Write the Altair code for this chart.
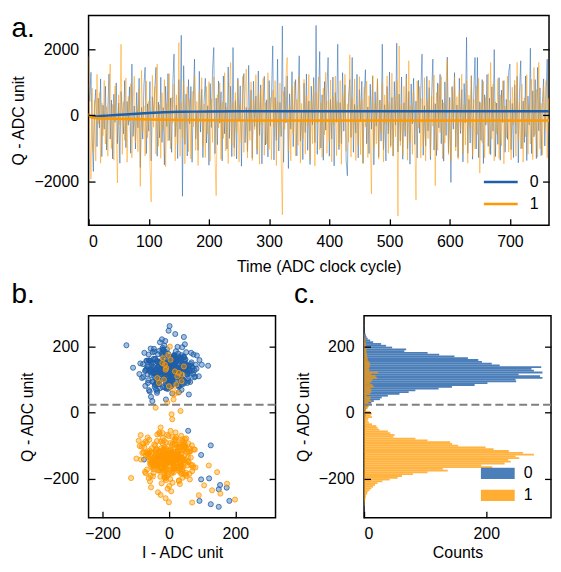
import altair as alt
import pandas as pd

FONT = "Liberation Sans"
BLUE = "#1f5fa8"
ORANGE = "#ff9900"

# ---------------- panel a: single-shot traces (every 2nd ADC cycle) ----------------
trace_t = list(range(0, 770, 2))
trace0 = [
    930, 420, 1300, -600, -1700, 250, 780, -950, 520, -380, 1100, -1250, 310, -420, 880, -1050, 150, 1250, -720, 460,
    -1320, 640, -210, 980, -860, 370, -1450, 720, 130, -560, 1050, -980, 420, -300, 860, -1150, 1550, -640, 280, -1020,
    690, -380, 1120, -1580, 240, -720, 930, 1450, -1160, 350, -480, 1020, -1380, 560, -90, 780, 1450, -1240, 400, -680,
    1150, -820, 230, -1500, 880, -340, 1260, -760, 520, -1120, 960, 1850, -650, 310, -1310, 1080, -420, 2420, -2450, 1500,
    -880, 640, -1230, 1080, -260, 870, -1420, 460, 1700, -720, 130, -1060, 1330, -510, 790, -1280, 420, 1120, -840, 290,
    -1510, 960, -370, 1380, 2050, -1160, 520, -890, 1040, -240, 710, -1380, 1190, -560, 380, -1020, 1460, -700, 880, -1250,
    2050, -980, 450, -1320, 1120, -170, 890, -1540, 620, 1260, -830, 240, -1100, 1510, -470, 760, -1290, 1030, -340, 580,
    -1180, 1340, -610, 920, -1470, 350, 1180, -900, 470, -1260, 1050, -330, 680, 2100, -1350, 540, -760, 1700, -1080, 390,
    -640, 2700, -1420, 860, -230, 1190, -1610, 650, -420, 1320, -950, 280, 1080, -1230, 540, 1800, -780, 120, -1340, 970,
    -520, 1250, -1060, 430, -1490, 880, -290, 1140, -830, 2720, -1180, 360, 1930, -990, 620, -1360, 1020, -450, 780, 1750,
    -1240, 480, -720, 1160, -1530, 690, -210, 2150, -1040, 380, -860, 1290, -480, 920, -1380, -1830, 560, 1080, -670, 1750,
    -1120, 330, -540, 1240, -1290, 780, -190, 1030, -1450, 600, 1380, -860, 250, -1160, 940, -420, 1180, -1500, 710, -330,
    1090, -1260, 460, -780, 2150, -1040, 320, -1380, 870, -560, 1310, -920, 540, -1230, 1020, -300, 2180, -1110, 640, -780,
    1160, -1330, 380, -640, 1250, -1020, 720, -1480, 950, -260, 1120, -880, 430, -1290, 1060, -540, 760, 1850, -1210, 290,
    -930, 1180, -470, 840, -1340, 620, 1700, -1050, 350, -1220, 980, -380, 1240, -860, 470, -1390, 1010, -610, 1760, -1130,
    540, -2030, 870, -420, 1290, -960, 310, -1270, 1120, -550, 780, -1410, 960, -230, 2360, -1150, 480, -840, 1200, -1330,
    690, 1750, -1020, 1750, -1280, 410, -760, 1080, -1460, 620, -300, 1230, -940, 520, -1190, 860, -480, 1990, -1250, 370,
    -880, 1140, -1360, 760, -220, 1050, -1120, 480, -730, 1320, 1550, -1040, 360, -1280, 920, -560, 1180, -1440, 700, 1650,
    -1010, 430, -820, 1190, -1370, 580, -290, 2030, -1160, 740, -650, 1080, -1310, 1450, -470, 830, -1220, 390, 1100, -930,
    520, 1700, -1180, 360, -640,
]
trace1 = [
    1780, -540, -1930, 820, -1120, 460, -1380, 1240, -260, 690, -1450, 380, -620, 1050, -870, 260, -1240, 740, 1550, -1010,
    330, -1360, 890, -480, -2050, 620, -280, 2150, -1180, 410, -760, 1130, -1420, 570, -190, 960, -1290, 440, 1180, -830,
    250, -1100, 780, -2150, 1360, -520, 290, -1230, 1040, -680, 430, -1450, -2620, 1210, -360, 870, -1170, 1550, -940, 320,
    -1300, 690, -430, 1080, -1560, 360, -780, 1260, -1020, 540, -240, 950, -1380, 620, -870, 2200, -1240, 380, -690, 1040,
    -1470, 270, 860, -1100, 480, -1320, 730, -350, 1210, -1060, 420, -1520, 680, -230, 1140, -940, 340, -1280, 870, -560,
    1020, -1390, 490, -820, 1160, -1210, -2430, 620, -380, 980, -1330, 410, -700, 1290, -1080, 250, -1460, 760, 1600, -910,
    380, -1240, 690, -520, 1050, -1410, 330, -830, 1180, -1120, 570, 1400, -1290, 220, -760, 1010, -1370, 460, -430, 1230,
    -1060, 640, -1480, 830, -290, 1120, -1210, 390, -870, 1290, -1030, 540, -1340, 760, -350, 1050, -1520, 420, -660, 980,
    -1260, -3010, 720, -430, 1150, 1750, -1090, 310, -1380, 870, -560, 1020, -1230, 480, -910, 1180, -1450, 360, -700, 1090,
    -1170, 590, -320, 1240, -1330, 430, -860, 1010, -1540, 690, -250, 1160, -1040, 380, -1270, 820, -590, 1300, -1150, 440,
    -780, 1070, -1410, 560, -300, 1190, -1220, 410, -940, 1050, -1480, 630, -190, 1240, -1090, 350, -810, 1830, -1260, 520,
    -640, 1100, -1370, 280, -920, 1170, -1190, 480, -1460, 860, -350, 1030, -1280, 590, -720, -2380, 1210, -1010, 370, -860,
    1120, -1330, 450, -540, 980, -1410, 620, -270, 1190, -1150, 390, -980, 1280, -1240, 560, -650, 1050, -3050, 2100, -920,
    340, -1210, 880, -470, 1130, -1360, 1650, -820, 290, -1180, 760, -640, -2560, 1040, -390, 870, -1290, 510, -930, 1140,
    -1380, 420, -710, 1060, -1250, 580, -330, 1220, -2130, 690, -1060, 940, -520, 1170, -1320, 380, -840, 1010, 1680, -1190,
    450, -1400, 830, -280, 1150, -1080, 560, -1330, 720, -470, 1240, -1170, 330, -900, 1050, -1450, 610, -360, 1180, -1240,
    480, -1020, 890, -590, 1120, -1750, 370, -830, 1030, -1290, 540, -240, 1260, -1160, 1600, -720, 940, -1380, 410, -560,
    1110, -1310, 620, -920, 1040, -1470, 280, -680, 1190, -1110, 460, -1350, 850, -300, 1060, -1240, 1600, -760, 390, -1020,
    940, -1420, 530, -650, 1230, -1180, 320, -870, 1090, -1340, 1450, -590, 780, -1270, 1600, -1010, 360, -1200, 870, -440,
    1050, -1290, 510, -830, 970,
]
avg_t = [0, 2, 5, 10, 20, 30, 45, 60, 80, 100, 125, 150, 175, 200, 250, 300, 400, 500, 600, 700, 768]
avg0 = [30, -30, -45, -42, -25, -10, 8, 25, 48, 70, 90, 105, 111, 115, 119, 121, 122, 122, 123, 122, 122]
avg1 = [60, -20, -70, -85, -95, -100, -106, -110, -118, -125, -133, -140, -145, -150, -154, -157, -159, -160, -160, -160, -160]

# ---------------- panel b: IQ single shots ----------------
blue_i = [
    12, -35, 48, -8, 27, -61, 3, 39, -22, 71, -14, 5, -47, 30, -3, 18, -89, 44, -29, 9, 56, -17, 23, -52, 1,
    -38, 15, 64, -6, -25, 33, -71, 20, 8, -44, 52, -11, 37, -19, 2, -58, 26, 90, -33, 11, -4, 41, -27, 6, -66,
    29, -13, 77, -40, 16, -2, 35, -55, 21, -9, 47, -31, 4, 62, -20, 13, -78, 24, -7, 50, -36, 10, -15, 31, -49,
    7, 58, -24, 19, -63, 38, -1, 26, -42, 83, -12, 14, -34, 45, -5, 22, -57, 32, -18, 68, -28, 3, 40, -10, -81,
    17, -46, 28, -3, 54, -21, 9, -39, 36, -60, 11, 73, -16, 25, -50, 6, 43, -26, 15, -8, 99, -37, 20, -68, 34,
    -11, 48, -30, 2, 61, -43, 18, -6, 30, -74, 13, 39, -23, 5, -54, 27, -14, 84, -35, 8, 46, -19, -1, 57, -45,
    24, -9, 37, -64, 14, 51, -27, 4, -41, 69, -16, 21, -3, 33, -59, 10, 44, -32, 19, -108, 28, -12, 63, -24, 7,
    -52, 16, 41, -7, 26, -36, 1, 55, -20, 12, -47, 35, -13, 79, -29, 8, -65, 22, -2, 49, -38, 15, -11, 30, -56,
    3, 66, -25, 18, -44, 38, -8, 24, -70, 11, 52, -18, 6, -33, 43, -4, 27, -53, 17, -15, 60, -41, 9, 36, -86,
    20, -6, 47, -31, 13, -58, 29, 2, -22, 74, -10, 39, -46, 16, -1, 56, -28, 10, -63, 31, -17, 45, -35, 5, 118,
    -14, 34, -50, 9, 67, -24, 19, -5, 42, -39, 14, -72, 26, 3, 51, -30, 11, -20, 37, -61, 22, -9, 81, -43, 15,
    6, -27, 54, -12, 25, -48, 32, -3, 18, -77, 40, -21, 8, 59, -34, 13, -6, 46, -55, 21, -16, 71, -2, 28, -40,
    -19, 43, -8, 30, -67, 17, 4, 50, -32, 11, -45, 36, -14, 92, -26, 7, -53, 24, -10, 63, -37, 14, 2, -59, 33,
    10, -42, 27, -15, 76, -29, 5, -48, 38, -7, 19, -62, 44, 1, -23, 55, -36, 12, -128, 31, -4, 47, -18, 23, -50,
    58, 97, 97, 121, 150, 154, 174, 92, 126, 150, 182, -75, 126,
]
blue_q = [
    141, 112, 160, 95, 131, 176, 119, 87, 148, 127, 203, 104, 139, 155, 72, 133, 117, 168, 98, 145, 124, 190, 109, 152, 136,
    118, 171, 93, 138, 126, 158, 81, 143, 114, 185, 129, 101, 164, 122, 150, 64, 135, 110, 177, 146, 97, 132, 213, 120, 157,
    106, 149, 128, 85, 166, 137, 115, 194, 123, 91, 154, 142, 79, 130, 172, 111, 147, 99, 125, 161, 134, 58, 144, 116, 183,
    127, 102, 156, 139, 90, 174, 121, 108, 163, 133, 76, 150, 118, 229, 140, 96, 131, 167, 113, 152, 86, 137, 198, 124, 105,
    159, 120, 83, 146, 134, 179, 100, 128, 153, 68, 141, 117, 188, 126, 94, 162, 136, 110, 170, 123, 145, 89, 131, 157, 114,
    138, 207, 97, 149, 125, 78, 166, 132, 112, 181, 142, 103, 127, 155, 48, 135, 119, 173, 92, 148, 129, 196, 108, 143, 121,
    164, 88, 137, 116, 151, 130, 74, 169, 124, 140, 101, 186, 133, 111, 158, 96, 145, 122, 238, 136, 84, 161, 118, 147, 107,
    130, 175, 99, 142, 126, 60, 154, 115, 190, 138, 93, 165, 128, 109, 150, 82, 139, 121, 178, 144, 104, 132, 217, 117, 156,
    95, 147, 125, 168, 110, 136, 73, 159, 129, 100, 183, 141, 118, 153, 87, 134, 170, 113, 146, 124, 55, 162, 137, 105, 149,
    122, 192, 91, 140, 131, 157, 79, 144, 116, 176, 127, 98, 163, 135, 248, 120, 151, 86, 138, 109, 173, 129, 66, 155, 142,
    112, 160, 133, 94, 181, 123, 147, 103, 137, 70, 152, 126, 199, 114, 141, 89, 166, 130, 106, 158, 121, 40, 145, 134, 171,
    99, 139, 117, 185, 127, 150, 81, 162, 131, 108, 143, 222, 119, 96, 155, 136, 75, 168, 124, 111, 148, 135, 92, 179, 128,
    154, 101, 140, 62, 132, 167, 115, 146, 88, 137, 193, 123, 105, 159, 130, 80, 150, 118, 174, 142, 97, 133, 262, 126, 113,
    145, 84, 161, 129, 107, 187, 138, 120, 69, 152, 134, 98, 170, 125, 143, 90, 156, 116, 204, 131, 103, 148, 77, 139, 35,
    -55, -128, -202, -199, -232, -219, -227, -267, -277, -285, -267, -142, -99,
]
orange_i = [
    -18, 25, -47, 6, 33, -71, -2, 41, -29, 14, -58, 19, -9, 52, -36, 0, 66, -22, 9, -43, 28, -14, -84, 37, -5,
    21, -40, 3, 58, -26, 11, -63, 30, -12, 45, -33, 7, -91, 24, -7, 39, -51, 16, -19, 73, -38, 2, 34, -24, -60,
    12, -8, 48, -31, 19, -54, 27, -3, 40, -45, 8, -16, 62, -28, 15, -77, 32, -11, 4, 55, -41, 22, -6, 36, -69,
    -13, 43, -35, 10, -1, 67, -25, 18, -48, 29, -10, 80, -37, 5, -20, 46, -57, 13, -4, 31, -66, 23, -15, 50, -30,
    1, -44, 26, -9, 59, -21, 14, -74, 35, -17, 7, -52, 42, -27, 17, -3, 70, -39, 11, -61, 24, -12, 47, -34, 8,
    -23, 38, -6, 20, -49, 53, -16, 3, -82, 28, -11, 44, -30, 9, -56, 33, -2, 64, -42, 15, -19, 40, -70, 6, -27,
    30, -14, 51, -37, 2, -59, 21, -7, 43, -25, 12, -88, 35, -18, 60, -32, 4, -46, 27, -9, 75, -40, 16, -1, 38,
    -50, 9, -21, 46, -13, 31, -65, 18, -5, 54, -28, 1, -43, 36, -15, 22, -72, 41, -8, 13, -35, 57, -24, 7, -55,
    19, -3, 63, -30, 11, -47, 26, -17, 39, -62, 5, 48, -22, 14, -80, 32, -10, 2, 69, -38, 20, -13, 45, -53, 10,
    -6, 34, -41, 16, -26, 58, -4, 23, -67, 37, -12, 8, -48, 29, -20, 52, -33, 3, -58, 42, -9, 18, -29, 71, -45,
    25, -16, 6, -54, 40, -23, 13, -76, 30, -7, 49, -35, 17, -2, 61, -44, 9, -27, 35, -64, 21, -11, 44, -39, 0,
    -31, 56, -19, 10, -46, 27, -5, 38, -85, 15, -24, 47, -12, 3, -60, 33, -36, 20, -8, 78, -42, 11, -21, 43, -15,
    7, -52, 29, -3, 50, -28, 16, -68, 37, -10, 24, -40, 4, 65, -33, 12, -56, 22, -18, 41, -1, -98, 31, -26, 14,
    -25, 10, 35, -5, 20, -40, 15, 0, -15, 30, 45, -30, 5, 25, -10, 12, -20, 38, -2, 18, 8, -35, 28, -12, 3, 22, -8, 40, -18, 14,
    106, 130, 155, 199, 120, 90, -114, 175, 145, 70,
]
orange_q = [
    -140, -105, -171, -126, -152, -88, -133, -197, -118, -160, -145, -79, -128, -182, -111, -149, -136, -214, -99, -157, -124, -168, -142, -70, -131,
    -163, -117, -148, -93, -175, -138, -121, -205, -134, -102, -158, -146, -85, -129, -190, -114, -152, -137, -62, -166, -123, -143, -180, -108, -135,
    -127, -173, -96, -155, -139, -226, -116, -148, -81, -160, -132, -110, -185, -141, -125, -94, -169, -136, -201, -119, -150, -74, -144, -162, -130,
    -151, -100, -137, -178, -122, -159, -87, -145, -193, -128, -113, -166, -140, -55, -154, -131, -208, -118, -147, -97, -172, -134, -124, -188, -141,
    -115, -161, -136, -90, -149, -127, -181, -106, -155, -142, -238, -120, -165, -132, -84, -146, -177, -112, -139, -198, -126, -158, -101, -143, -129,
    -170, -125, -67, -152, -138, -192, -117, -147, -103, -163, -134, -89, -176, -121, -155, -216, -130, -109, -144, -160, -77, -137, -183, -115, -150,
    -132, -195, -107, -156, -141, -82, -168, -123, -146, -249, -129, -101, -162, -137, -119, -174, -92, -149, -133, -204, -111, -158, -128, -71, -143,
    -165, -120, -139, -186, -104, -153, -130, -97, -171, -145, -116, -222, -134, -160, -85, -127, -179, -142, -108, -150, -66, -136, -167, -123, -191,
    -118, -147, -202, -131, -94, -163, -140, -113, -176, -126, -152, -80, -144, -170, -122, -135, -259, -149, -99, -158, -128, -187, -110, -141, -73,
    -155, -134, -100, -169, -121, -148, -230, -137, -91, -162, -125, -184, -143, -106, -153, -78, -139, -173, -115, -146, -196, -130, -60, -159, -124,
    -142, -179, -111, -150, -87, -164, -133, -120, -207, -145, -102, -157, -136, -189, -118, -96, -167, -129, -148, -75, -140, -175, -114, -154, -271,
    -126, -160, -93, -144, -182, -119, -153, -137, -68, -166, -131, -105, -199, -148, -123, -171, -86, -141, -157, -112, -134, -212, -128, -98, -162,
    -138, -108, -176, -130, -152, -64, -145, -121, -185, -135, -97, -163, -149, -117, -241, -127, -156, -83, -143, -170, -124, -139, -103, -194, -132,
    -45, -20, 5, 30, -60, 15, 55, 80, 100, 120, 140, 90, 160, 110, 130, 70, 150, 95, 175, 125, -5, 105, 60, 145, 200, 85, 135, 115, 165, 40,
    -220, -235, -245, -263, -160, -250, -198, -215, -180, -272,
]
threshold_q = 24

# ---------------- panel c: Q histograms ----------------
hist_start = -297.0
hist_width = 5.4
hist_blue = [
    0, 0, 1, 0, 0, 1, 0, 0, 0, 1,
    0, 0, 1, 0, 1, 0, 1, 0, 0, 1,
    0, 1, 0, 1, 0, 0, 1, 0, 1, 0,
    1, 0, 0, 1, 0, 1, 0, 1, 0, 1,
    0, 1, 0, 1, 1, 0, 1, 2, 1, 1,
    2, 1, 2, 3, 2, 2, 3, 4, 7, 4,
    12, 16, 26, 29, 39, 58, 73, 84, 122, 144,
    181, 202, 249, 248, 292, 288, 253, 292, 278, 274,
    290, 222, 209, 193, 187, 170, 148, 123, 104, 66,
    69, 46, 36, 28, 15, 10, 6, 4, 3, 2,
    0, 0, 0, 1, 0,
]
hist_orange = [
    0, 0, 0, 1, 1, 1, 2, 3, 3, 5,
    6, 9, 12, 15, 18, 22, 30, 42, 55, 62,
    80, 104, 137, 129, 210, 192, 230, 240, 236, 254,
    248, 278, 260, 237, 212, 199, 154, 144, 141, 104,
    84, 48, 50, 43, 39, 25, 22, 20, 13, 8,
    6, 7, 13, 11, 13, 10, 3, 6, 7, 4,
    7, 12, 10, 11, 4, 10, 12, 12, 11, 16,
    14, 10, 12, 14, 21, 19, 12, 23, 9, 8,
    9, 10, 10, 8, 6, 6, 5, 5, 4, 4,
    4, 3, 3, 3, 2, 2, 2, 1, 1, 0,
    0, 0, 0, 0, 0,
]

# ---------------- tables ----------------
df_tr = pd.DataFrame(list(zip(trace_t, trace0, trace1)), columns=["t", "q0", "q1"])
df_avg = pd.DataFrame(
    [(t, q, "0") for t, q in zip(avg_t, avg0)] + [(t, q, "1") for t, q in zip(avg_t, avg1)],
    columns=["t", "q", "state"],
)
df_s0 = pd.DataFrame(list(zip(blue_i, blue_q)), columns=["i", "q"])
df_s1 = pd.DataFrame(list(zip(orange_i, orange_q)), columns=["i", "q"])


def hist_frame(counts, state):
    rows = []
    for k, c in enumerate(counts):
        lo = hist_start + hist_width * k
        rows.append((lo, lo + hist_width, c, 0, state))
    return pd.DataFrame(rows, columns=["lo", "hi", "count", "zero", "state"])


df_h0 = hist_frame(hist_blue, "0")
df_h1 = hist_frame(hist_orange, "1")
df_thr = pd.DataFrame({"q": [threshold_q]})

# ---------------- axis helpers ----------------
LBL = dict(labelFont=FONT, labelFontSize=16, labelColor="black", titleFont=FONT,
           titleFontSize=16, titleFontWeight="normal", titleColor="black",
           domain=False, grid=False, ticks=False, tickSize=0, format="d")
TICK = dict(labels=False, domain=False, grid=False, ticks=True, tickSize=6.5,
            tickWidth=1.3, tickColor="black", zindex=1)


def xlab(values, title, tpad):
    return alt.Axis(orient="bottom", values=values, title=title, labelPadding=8, titlePadding=tpad, **LBL)


def ylab(values, title):
    return alt.Axis(orient="left", values=values, title=title, labelPadding=10, titlePadding=7, **LBL)


def xtick_letter(values, h, letter, lx, ly):
    # inward ticks along the bottom edge; the panel letter rides on this axis as its title
    return alt.Axis(orient="top", offset=-h, values=values, title=letter, titleX=lx, titleY=ly - h,
                    titleAlign="left", titleAngle=0, titleBaseline="alphabetic", titleFont=FONT,
                    titleFontSize=28, titleFontWeight="normal", titleColor="black", **TICK)


def ytick_left(values, w):
    return alt.Axis(orient="right", offset=-w, values=values, title=None, **TICK)


def ytick_right(values, w):
    return alt.Axis(orient="left", offset=-w, values=values, title=None, **TICK)


state_scale = alt.Scale(domain=["0", "1"], range=[BLUE, ORANGE])

# ---------------- panel a ----------------
WA, HA = 463, 211
xa = alt.Scale(domain=[0, 765], nice=False, zero=False)
ya = alt.Scale(domain=[-3330, 3020], nice=False, zero=False)
xa_vals = list(range(0, 800, 100))
ya_vals = [-2000, 0, 2000]

a0 = alt.Chart(df_tr).mark_line(color=BLUE, strokeWidth=1, opacity=0.5, clip=True).encode(
    x=alt.X("t:Q", scale=xa, axis=xlab(xa_vals, "Time (ADC clock cycle)", 9)),
    y=alt.Y("q0:Q", scale=ya, axis=ylab(ya_vals, "Q - ADC unit")),
)
a1 = alt.Chart(df_tr).mark_line(color=ORANGE, strokeWidth=1, opacity=0.5, clip=True).encode(
    x=alt.X("t:Q", scale=xa, axis=xtick_letter(xa_vals, HA, "a.", -78, 21)),
    y=alt.Y("q1:Q", scale=ya, axis=ytick_left(ya_vals, WA)),
)
a2 = alt.Chart(df_avg).mark_line(strokeWidth=2.5, clip=True).encode(
    x=alt.X("t:Q", scale=xa, axis=None),
    y=alt.Y("q:Q", scale=ya, axis=ytick_right(ya_vals, WA)),
    color=alt.Color("state:N", scale=state_scale, legend=alt.Legend(
        title=None, orient="none", legendX=403, legendY=156, symbolType="M-1.7,0H1.7",
        symbolSize=400, symbolStrokeWidth=2.5, labelFont=FONT, labelFontSize=16,
        labelColor="black", labelOffset=17.5, padding=0, rowPadding=2)),
)
panel_a = alt.layer(a0, a1, a2).resolve_axis(x="independent", y="independent").properties(
    width=WA, height=HA)

# ---------------- panel b ----------------
WB, HB = 188, 203
xb = alt.Scale(domain=[-242, 321], nice=False, zero=False)
ybc = alt.Scale(domain=[-318, 293], nice=False, zero=False)
v200 = [-200, 0, 200]

b0 = alt.Chart(df_s0).mark_point(shape="circle", size=26, strokeWidth=1, stroke=BLUE,
                                  strokeOpacity=0.8, fill=BLUE, fillOpacity=0.4).encode(
    x=alt.X("i:Q", scale=xb, axis=xlab(v200, "I - ADC unit", 3)),
    y=alt.Y("q:Q", scale=ybc, axis=ylab(v200, "Q - ADC unit")),
)
b1 = alt.Chart(df_s1).mark_point(shape="circle", size=26, strokeWidth=1, stroke=ORANGE,
                                  strokeOpacity=0.8, fill=ORANGE, fillOpacity=0.4).encode(
    x=alt.X("i:Q", scale=xb, axis=xtick_letter(v200, HB, "b.", -78, -13.8)),
    y=alt.Y("q:Q", scale=ybc, axis=ytick_left(v200, WB)),
)
b2 = alt.Chart(df_thr).mark_rule(color="#808080", strokeWidth=2, strokeDash=[8, 4]).encode(
    y=alt.Y("q:Q", scale=ybc, axis=ytick_right(v200, WB)),
)
panel_b = alt.layer(b0, b1, b2).resolve_axis(x="independent", y="independent").properties(
    width=WB, height=HB)

# ---------------- panel c ----------------
xc = alt.Scale(domain=[0, 306], nice=False, zero=False)
c_leg = alt.Legend(title=None, orient="none", legendX=123, legendY=147,
                   symbolType="M-1.478,-0.491H1.478V0.491H-1.478Z", symbolSize=529,
                   symbolStrokeWidth=0, labelFont=FONT, labelFontSize=16, labelColor="black",
                   labelOffset=14.5, padding=0, rowPadding=2)
c0 = alt.Chart(df_h0).mark_rect(opacity=0.8).encode(
    x=alt.X("count:Q", scale=xc, axis=xlab([0, 200], "Counts", 3)),
    x2="zero:Q",
    y=alt.Y("lo:Q", scale=ybc, axis=ylab(v200, "Q - ADC unit")),
    y2="hi:Q",
    color=alt.Color("state:N", scale=state_scale, legend=c_leg),
)
c1 = alt.Chart(df_h1).mark_rect(opacity=0.75).encode(
    x=alt.X("count:Q", scale=xc, axis=xtick_letter([0, 200], HB, "c.", -71, -13.5)),
    x2="zero:Q",
    y=alt.Y("lo:Q", scale=ybc, axis=ytick_left(v200, WB)),
    y2="hi:Q",
    color=alt.Color("state:N", scale=state_scale, legend=c_leg),
)
c2 = alt.Chart(df_thr).mark_rule(color="#808080", strokeWidth=2, strokeDash=[8, 4]).encode(
    y=alt.Y("q:Q", scale=ybc, axis=ytick_right(v200, WB)),
)
panel_c = alt.layer(c0, c1, c2).resolve_axis(x="independent", y="independent").properties(
    width=WB, height=HB)

# ---------------- layout ----------------
row_bc = alt.hconcat(panel_b, panel_c, spacing=15).resolve_scale(color="independent")
chart = alt.vconcat(panel_a, row_bc, spacing=4).resolve_scale(color="independent").properties(
    padding={"left": 2, "top": 4, "right": 0, "bottom": 0}
).configure(font=FONT).configure_view(stroke="black", strokeWidth=1.5)

chart.save("out.html", embed_options={"renderer": "svg", "actions": False})
